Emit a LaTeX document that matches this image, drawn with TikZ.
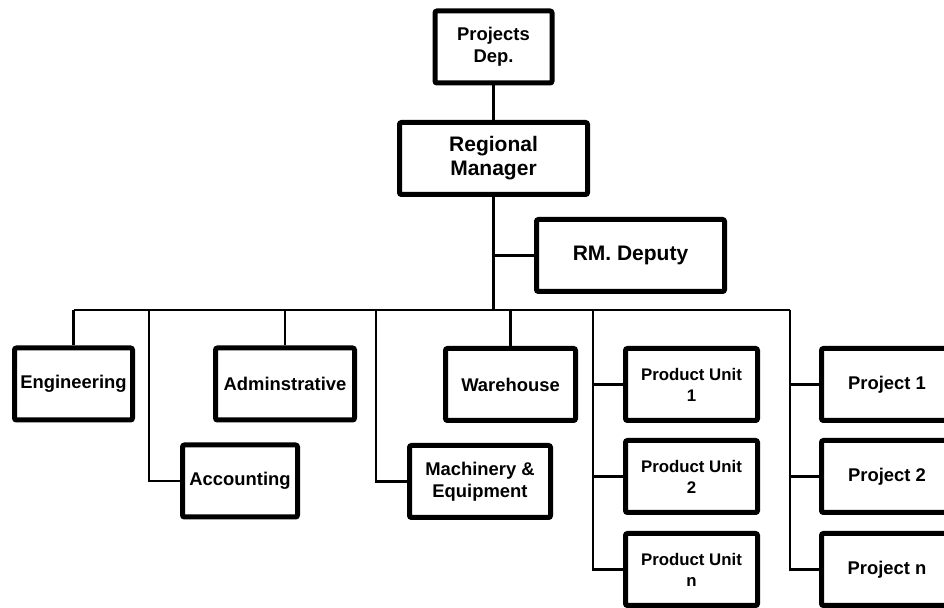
\documentclass[tikz,border=0pt]{standalone}
\usepackage{fontspec}
\setmainfont{Liberation Sans}
\usepackage{tikz}
\usetikzlibrary{positioning, calc}

\tikzset{
    orgbox/.style={draw=black, line width=2.5pt, rounded corners=1pt, inner sep=0pt,
                   minimum height=36pt, align=center, fill=white,
                   font=\bfseries\fontsize{9.2}{11}\selectfont},
    bigbox/.style={orgbox, minimum width=94pt, font=\bfseries\fontsize{10.5}{12}\selectfont},
    unitbox/.style={orgbox, minimum width=66pt, font=\bfseries\fontsize{8.4}{10.5}\selectfont},
    projbox/.style={orgbox, minimum width=65.5pt},
    link/.style={draw=black, line width=1.1pt}
}

\begin{document}
\begin{tikzpicture}[x=0.5pt, y=-0.5pt]
    \useasboundingbox (0,0) rectangle (944,608);
    \clip (0,0) rectangle (944,608);

    % top of the chart
    \node[orgbox, minimum width=58.5pt] (projdep) at (493.5,47) {Projects\\Dep.};
    \node[bigbox] (regmgr) at (493.5,158.5) {Regional\\Manager};
    \node[bigbox] (deputy) at (630.5,255.5) {RM. Deputy};

    % departments
    \node[orgbox, minimum width=59pt] (eng) at (73.5,384) {Engineering};
    \node[orgbox, minimum width=69.5pt] (admin) at (285,384) {Adminstrative};
    \node[orgbox, minimum width=57.5pt] (acct) at (240,481) {Accounting};
    \node[orgbox, minimum width=65pt] (wareh) at (510.5,384.5) {Warehouse};
    \node[orgbox, minimum width=70.5pt] (mach) at (480,481.5) {Machinery \&\\Equipment};

    % product units
    \node[unitbox] (pu1) at (691.5,384.5) {Product Unit\\1};
    \node[unitbox] (pu2) at (691.5,476.5) {Product Unit\\2};
    \node[unitbox] (pun) at (691.5,569.5) {Product Unit\\n};

    % projects
    \node[projbox] (proj1) at (887,384.5) {Project 1};
    \node[projbox] (proj2) at (887,476.5) {Project 2};
    \node[projbox] (projn) at (887,569.5) {Project n};

    % bus and taps
    \coordinate (busL) at (73.5,310);
    \coordinate (busR) at (790,310);
    \coordinate (tapAcct) at (149,310);
    \coordinate (tapMach) at (376,310);
    \coordinate (tapPU) at (593,310);

    \begin{scope}[on background layer/.try]
    \draw[link] (projdep) -- (regmgr);
    \draw[link] (regmgr.south) -- (regmgr.south |- busL);
    \draw[link] (deputy.west) -- (deputy.west -| regmgr.south);
    \draw[link] (busL) -- (busR);
    \draw[link] (eng.north) -- (eng.north |- busL);
    \draw[link] (admin.north) -- (admin.north |- busL);
    \draw[link] (wareh.north) -- (wareh.north |- busL);
    \draw[link] (tapAcct) |- (acct.west);
    \draw[link] (tapMach) |- (mach.west);
    \draw[link] (tapPU) |- (pun.west);
    \draw[link] (busR) |- (projn.west);
    \foreach \n in {pu1, pu2}
        \draw[link] (tapPU |- \n.west) -- (\n.west);
    \foreach \n in {proj1, proj2}
        \draw[link] (busR |- \n.west) -- (\n.west);
    \end{scope}
\end{tikzpicture}
\end{document}
